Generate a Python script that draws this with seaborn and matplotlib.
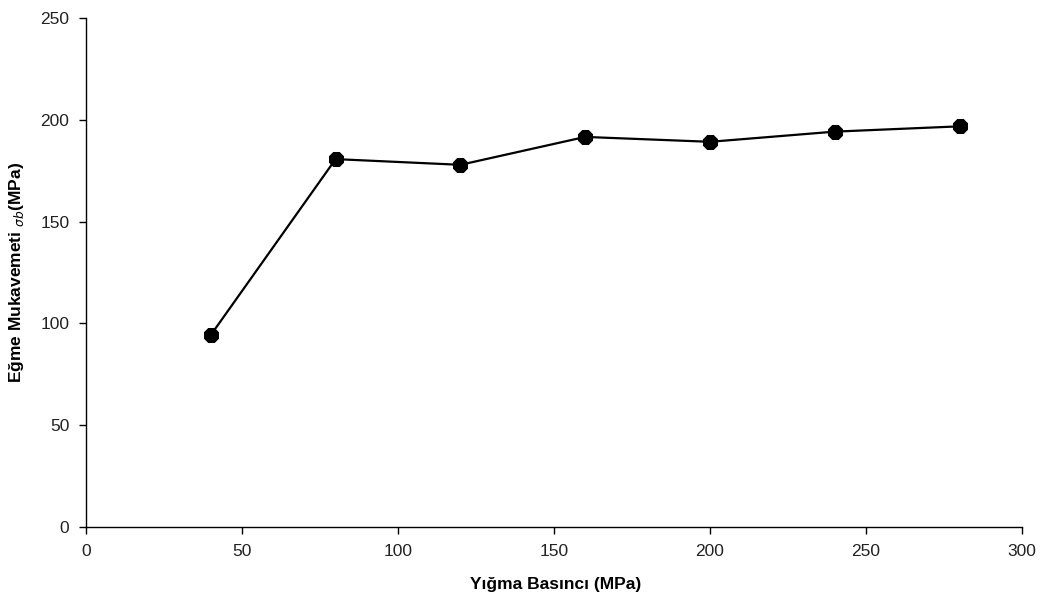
import matplotlib
matplotlib.use("Agg")
import matplotlib.pyplot as plt
import seaborn as sns
import pandas as pd

pressure = [40, 80, 120, 160, 200, 240, 280]
strength = [94.3, 180.7, 177.9, 191.6, 189.2, 194.2, 196.8]
x_ticks = [0, 50, 100, 150, 200, 250, 300]
y_ticks = [0, 50, 100, 150, 200, 250]

sns.set_style("white")
plt.rcParams['font.family'] = ['Liberation Sans', 'DejaVu Sans']

df = pd.DataFrame({"x": pressure, "y": strength})
fig = plt.figure(figsize=(10.4, 5.93), dpi=100)
ax = fig.add_axes([0.0827, 0.1113, 0.9, 0.8583])
sns.lineplot(data=df, x="x", y="y", ax=ax, color="black", linewidth=1.6,
             marker="8", markersize=10.5, markeredgecolor="black", markerfacecolor="black")
ax.set_xlim(0, 300)
ax.set_ylim(0, 250)
ax.set_xticks(x_ticks)
ax.set_yticks(y_ticks)
for s in ["top", "right"]:
    ax.spines[s].set_visible(False)
for s in ["left", "bottom"]:
    ax.spines[s].set_color("black")
    ax.spines[s].set_linewidth(1.0)
ax.tick_params(axis="both", direction="out", length=5, width=1, color="black",
               labelsize=12.5, labelcolor="#222222", left=True, bottom=True, pad=7)
ax.set_xlabel("Yığma Basıncı (MPa)", fontsize=12.5, fontweight="bold", color="black")
ax.set_ylabel(r"Eğme Mukavemeti $_{\sigma b}$(MPa)", fontsize=12.5, fontweight="bold", color="black")
ax.xaxis.set_label_coords(0.502, -0.098)
ax.yaxis.set_label_coords(-0.064, 0.5)
fig.savefig("out.png", dpi=100)
